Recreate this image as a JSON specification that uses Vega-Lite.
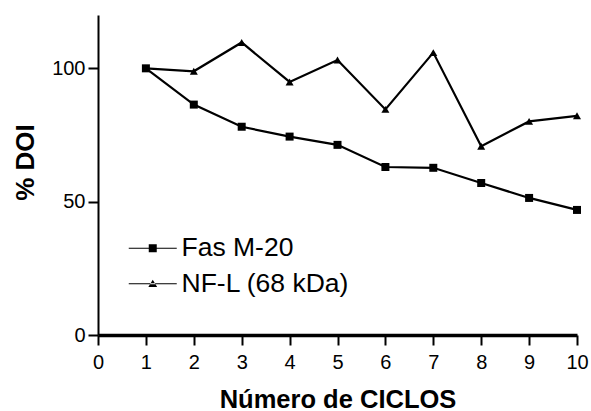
{
  "$schema": "https://vega.github.io/schema/vega-lite/v6.json",
  "width": 479,
  "height": 320,
  "autosize": {"type": "none"},
  "padding": {"left": 98, "top": 15, "right": 14, "bottom": 76},
  "background": "white",
  "config": {
    "font": "Liberation Sans",
    "view": {"stroke": null},
    "axis": {"grid": false, "domainColor": "black", "tickColor": "black", "labelColor": "black", "titleColor": "black", "labelFont": "Liberation Sans", "titleFont": "Liberation Sans"}
  },
  "data": {
    "values": [
      {"ciclo": 1, "doi": 100, "serie": "Fas M-20"},
      {"ciclo": 2, "doi": 86.4, "serie": "Fas M-20"},
      {"ciclo": 3, "doi": 78.1, "serie": "Fas M-20"},
      {"ciclo": 4, "doi": 74.4, "serie": "Fas M-20"},
      {"ciclo": 5, "doi": 71.3, "serie": "Fas M-20"},
      {"ciclo": 6, "doi": 63.0, "serie": "Fas M-20"},
      {"ciclo": 7, "doi": 62.7, "serie": "Fas M-20"},
      {"ciclo": 8, "doi": 57.0, "serie": "Fas M-20"},
      {"ciclo": 9, "doi": 51.4, "serie": "Fas M-20"},
      {"ciclo": 10, "doi": 46.9, "serie": "Fas M-20"},
      {"ciclo": 1, "doi": 100, "serie": "NF-L (68 kDa)"},
      {"ciclo": 2, "doi": 98.9, "serie": "NF-L (68 kDa)"},
      {"ciclo": 3, "doi": 109.7, "serie": "NF-L (68 kDa)"},
      {"ciclo": 4, "doi": 94.9, "serie": "NF-L (68 kDa)"},
      {"ciclo": 5, "doi": 103.1, "serie": "NF-L (68 kDa)"},
      {"ciclo": 6, "doi": 84.6, "serie": "NF-L (68 kDa)"},
      {"ciclo": 7, "doi": 105.9, "serie": "NF-L (68 kDa)"},
      {"ciclo": 8, "doi": 70.8, "serie": "NF-L (68 kDa)"},
      {"ciclo": 9, "doi": 80.1, "serie": "NF-L (68 kDa)"},
      {"ciclo": 10, "doi": 82.2, "serie": "NF-L (68 kDa)"}
    ]
  },
  "encoding": {
    "x": {
      "field": "ciclo", "type": "quantitative",
      "scale": {"domain": [0, 10], "nice": false, "zero": false},
      "axis": {
        "values": [0, 1, 2, 3, 4, 5, 6, 7, 8, 9, 10],
        "title": "Número de CICLOS",
        "titleFontSize": 25.5, "titleFontWeight": "bold",
        "titleY": 72, "titleBaseline": "alphabetic",
        "labelFontSize": 20, "labelPadding": 7,
        "tickSize": 10, "tickWidth": 2, "domainWidth": 3.5,
        "labelFlush": false, "labelOverlap": false
      }
    },
    "y": {
      "field": "doi", "type": "quantitative",
      "scale": {"domain": [0, 120], "nice": false},
      "axis": {
        "values": [0, 50, 100],
        "title": "% DOI",
        "titleFontSize": 26, "titleFontWeight": "bold",
        "titleX": -65, "titleY": 147, "titleBaseline": "alphabetic", "titleAngle": 270,
        "labelFontSize": 20, "labelPadding": 3,
        "tickSize": 10, "tickWidth": 2, "domainWidth": 2,
        "labelFlush": false, "labelOverlap": false
      }
    }
  },
  "resolve": {"scale": {"shape": "independent"}},
  "layer": [
    {
      "mark": {"type": "line", "color": "black", "strokeWidth": 2.2},
      "encoding": {"detail": {"field": "serie"}}
    },
    {
      "mark": {"type": "point", "filled": true, "color": "black", "opacity": 1, "size": 64},
      "encoding": {
        "shape": {
          "field": "serie", "type": "nominal",
          "scale": {"domain": ["Fas M-20", "NF-L (68 kDa)"], "range": ["square", "triangle-up"]},
          "legend": null
        }
      }
    },
    {
      "mark": {"type": "point", "filled": true, "color": "black", "opacity": 0, "size": 64},
      "encoding": {
        "shape": {
          "field": "serie", "type": "nominal",
          "scale": {"domain": ["Fas M-20", "NF-L (68 kDa)"], "range": ["M-3,-0.07H3V0.07H-3ZM-0.5,-0.5H0.5V0.5H-0.5Z", "M-3,-0.07H3V0.07H-3ZM-0.55,0.4L0.55,0.4L0,-0.5Z"]},
          "legend": {
            "title": null,
            "orient": "none",
            "legendX": 41.5,
            "legendY": 220,
            "padding": 0,
            "symbolSize": 256,
            "symbolOpacity": 1,
            "symbolFillColor": "black",
            "symbolStrokeWidth": 0,
            "rowPadding": 8.5,
            "labelFontSize": 26.5,
            "labelLimit": 400,
            "labelFont": "Liberation Sans",
            "labelColor": "black",
            "labelOffset": 15.5
          }
        }
      }
    }
  ]
}
